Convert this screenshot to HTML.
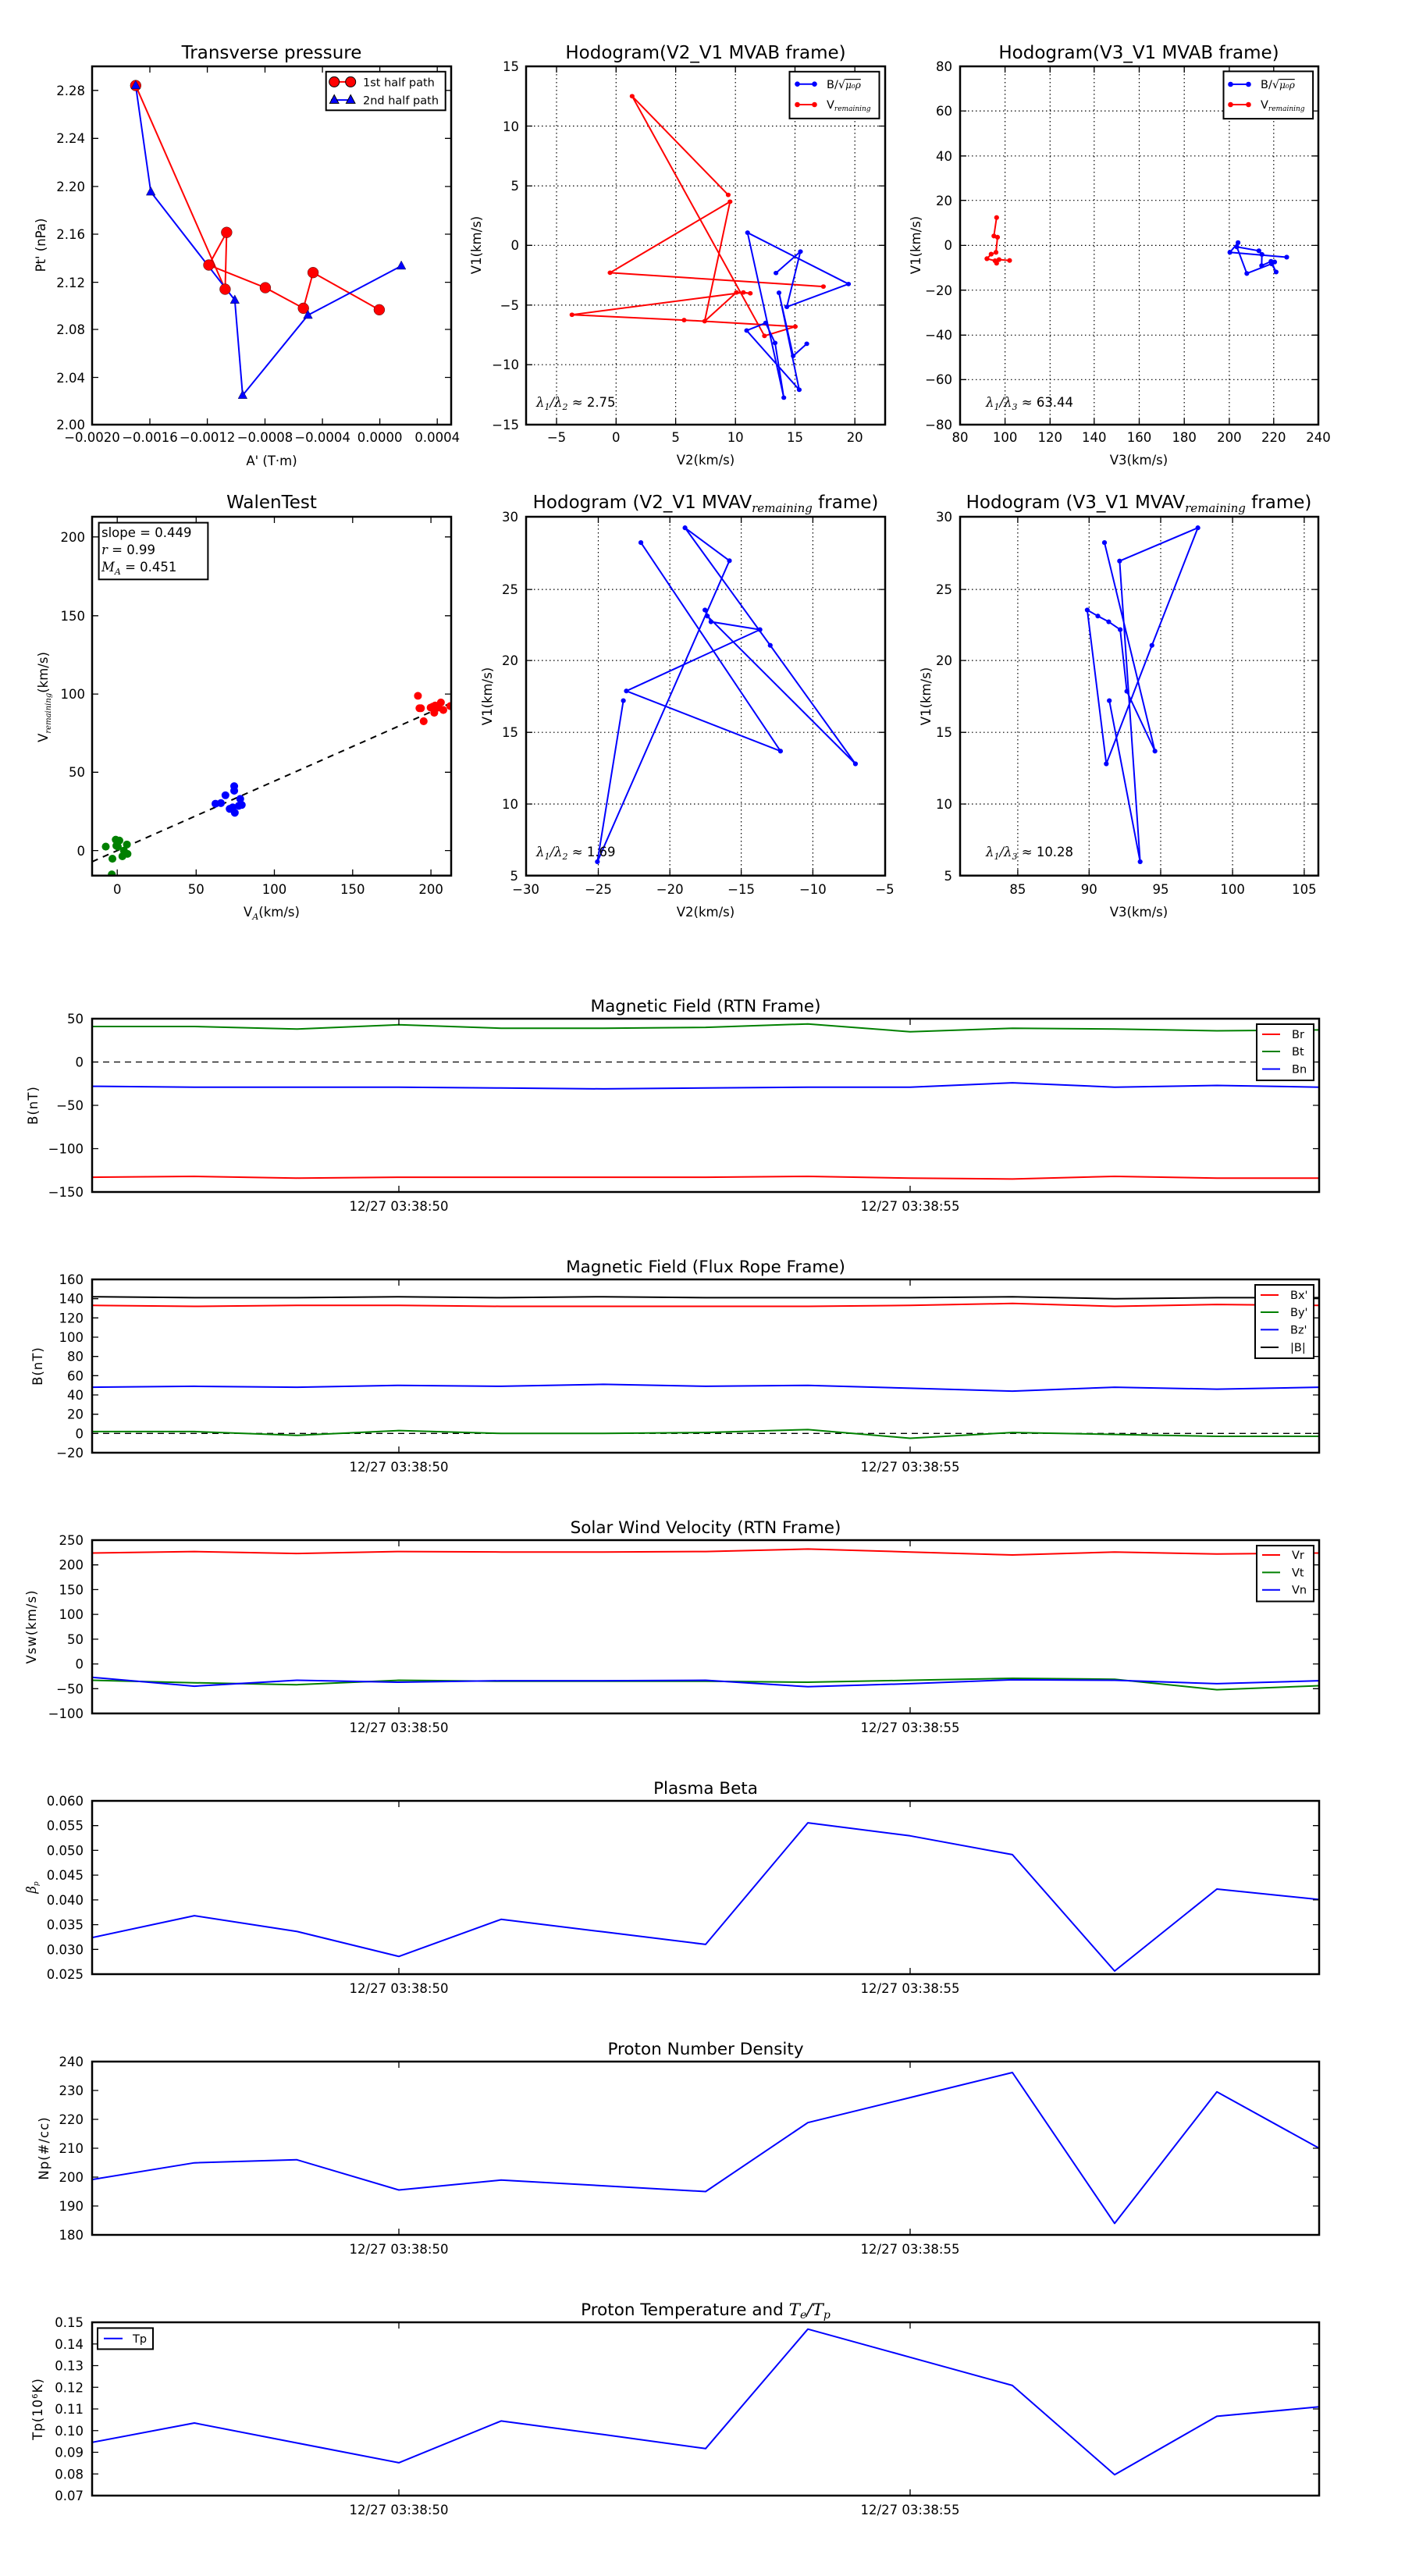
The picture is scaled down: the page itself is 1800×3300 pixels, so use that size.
<!DOCTYPE html>
<html><head><meta charset="utf-8"><style>
html,body{margin:0;padding:0;background:#fff;}
svg{display:block}
text{font-family:"DejaVu Sans","Liberation Sans",sans-serif;font-size:16.5px;fill:#000}
.t{font-size:23px}
.ts{font-size:21.5px}
.lg{font-size:14.5px}
.m{font-family:"DejaVu Serif","Liberation Serif",serif;font-style:italic}
.ax{fill:none;stroke:#000;stroke-width:2.5}
.tk{fill:none;stroke:#000;stroke-width:1.3}
.gr{fill:none;stroke:#000;stroke-width:1.2;stroke-dasharray:1.5,3.5}
.d{fill:none;stroke-width:2;vector-effect:non-scaling-stroke;stroke-linejoin:round}
.R{stroke:#ff0000}.G{stroke:#008000}.B{stroke:#0000ff}.K{stroke:#000}
</style></head><body>
<svg width="1800" height="3300" viewBox="0 0 1800 3300" xmlns="http://www.w3.org/2000/svg">
<rect width="1800" height="3300" fill="#fff"/>

<!-- ============ Panel A: Transverse pressure ============ -->
<text class="t" x="348" y="75" text-anchor="middle">Transverse pressure</text>
<g transform="scale(0.38715)">
<polyline class="d R" points="449,283 745,957 750,769 691,877 878,952 1004,1020 1036,902 1255,1025"/>
<polyline class="d B" points="449,283 499,635 777,993 803,1308 1019,1043 1328,880"/>
<g fill="#ff0000" stroke="#000" stroke-width="1" vector-effect="non-scaling-stroke">
<circle cx="449" cy="283" r="18"/><circle cx="745" cy="957" r="18"/><circle cx="750" cy="769" r="18"/><circle cx="691" cy="877" r="18"/><circle cx="878" cy="952" r="18"/><circle cx="1004" cy="1020" r="18"/><circle cx="1036" cy="902" r="18"/><circle cx="1255" cy="1025" r="18"/>
</g>
<g fill="#0000ff" stroke="#000" stroke-width="1">
<polygon points="449,266 434,294 464,294"/><polygon points="499,618 484,646 514,646"/><polygon points="777,976 762,1004 792,1004"/><polygon points="803,1291 788,1319 818,1319"/><polygon points="1019,1026 1004,1054 1034,1054"/><polygon points="1328,863 1313,891 1343,891"/>
</g>
</g>
<rect class="ax" x="118" y="85" width="460" height="459"/>
<path class="tk" d="M192,544v-8M192,85v8M265.6,544v-8M265.6,85v8M339.5,544v-8M339.5,85v8M413.1,544v-8M413.1,85v8M486.6,544v-8M486.6,85v8M560.2,544v-8M560.2,85v8
M118,115.8h8M578,115.8h-8M118,177.3h8M578,177.3h-8M118,238.9h8M578,238.9h-8M118,300h8M578,300h-8M118,361.6h8M578,361.6h-8M118,422h8M578,422h-8M118,483.5h8M578,483.5h-8"/>
<g text-anchor="end">
<text x="109" y="122">2.28</text><text x="109" y="183">2.24</text><text x="109" y="245">2.20</text><text x="109" y="306">2.16</text><text x="109" y="368">2.12</text><text x="109" y="428">2.08</text><text x="109" y="490">2.04</text><text x="109" y="550">2.00</text>
</g>
<g text-anchor="middle">
<text x="118" y="566">−0.0020</text><text x="192" y="566">−0.0016</text><text x="265.6" y="566">−0.0012</text><text x="339.5" y="566">−0.0008</text><text x="413.1" y="566">−0.0004</text><text x="486.6" y="566">0.0000</text><text x="560.2" y="566">0.0004</text>
<text x="348" y="596">A' (T·m)</text>
</g>
<text transform="translate(58,314) rotate(-90)" text-anchor="middle">Pt' (nPa)</text>
<rect x="417.7" y="91.8" width="153" height="49.5" fill="#fff" stroke="#000" stroke-width="2"/>
<line x1="424" y1="104.9" x2="452" y2="104.9" stroke="#f00" stroke-width="2"/>
<circle cx="428.2" cy="104.9" r="6.5" fill="#f00" stroke="#000"/><circle cx="449.2" cy="104.9" r="6.5" fill="#f00" stroke="#000"/>
<text class="lg" x="465" y="110.5">1st half path</text>
<line x1="424" y1="128.1" x2="452" y2="128.1" stroke="#00f" stroke-width="2"/>
<polygon points="428.2,121.5 422.4,132.4 434,132.4" fill="#00f" stroke="#000"/><polygon points="449.2,121.5 443.4,132.4 455,132.4" fill="#00f" stroke="#000"/>
<text class="lg" x="465" y="133.7">2nd half path</text>

<!-- ============ Panel B: Hodogram V2_V1 MVAB ============ -->
<text class="t" x="904" y="75" text-anchor="middle">Hodogram(V2_V1 MVAB frame)</text>
<path class="gr" d="M713,85V544M789.3,85V544M865.6,85V544M942.2,85V544M1018.5,85V544M1095.2,85V544M674,161.5H1134M674,238.1H1134M674,314.3H1134M674,390.9H1134M674,467.2H1134"/>
<g transform="translate(600,60) scale(0.38715,0.36127)">
<polyline class="d R" points="860,525 542,175 980,1025 1082,992 714,969 343,950 910,871 933,874 887,871 782,973 866,549 469,801 1175,850"/>
<polyline class="d B" points="1018,802 1099,726 1054,922 1258,841 924,659 1044,1244 1015,1050 984,979 921,1006 1095,1216 1028,872 1075,1096 1120,1053"/>
<g fill="#f00"><circle cx="860" cy="525" r="8"/><circle cx="542" cy="175" r="8"/><circle cx="980" cy="1025" r="8"/><circle cx="1082" cy="992" r="8"/><circle cx="714" cy="969" r="8"/><circle cx="343" cy="950" r="8"/><circle cx="910" cy="871" r="8"/><circle cx="933" cy="874" r="8"/><circle cx="887" cy="871" r="8"/><circle cx="782" cy="973" r="8"/><circle cx="866" cy="549" r="8"/><circle cx="469" cy="801" r="8"/><circle cx="1175" cy="850" r="8"/></g>
<g fill="#00f"><circle cx="1018" cy="802" r="8"/><circle cx="1099" cy="726" r="8"/><circle cx="1054" cy="922" r="8"/><circle cx="1258" cy="841" r="8"/><circle cx="924" cy="659" r="8"/><circle cx="1044" cy="1244" r="8"/><circle cx="1015" cy="1050" r="8"/><circle cx="984" cy="979" r="8"/><circle cx="921" cy="1006" r="8"/><circle cx="1095" cy="1216" r="8"/><circle cx="1028" cy="872" r="8"/><circle cx="1075" cy="1096" r="8"/><circle cx="1120" cy="1053" r="8"/></g>
</g>
<rect class="ax" x="674" y="85" width="460" height="459"/>
<path class="tk" d="M713,544v-8M713,85v8M789.3,544v-8M789.3,85v8M865.6,544v-8M865.6,85v8M942.2,544v-8M942.2,85v8M1018.5,544v-8M1018.5,85v8M1095.2,544v-8M1095.2,85v8
M674,161.5h8M1134,161.5h-8M674,238.1h8M1134,238.1h-8M674,314.3h8M1134,314.3h-8M674,390.9h8M1134,390.9h-8M674,467.2h8M1134,467.2h-8"/>
<g text-anchor="end">
<text x="665" y="91">15</text><text x="665" y="168">10</text><text x="665" y="244">5</text><text x="665" y="320">0</text><text x="665" y="397">−5</text><text x="665" y="473">−10</text><text x="665" y="550">−15</text>
</g>
<g text-anchor="middle">
<text x="713" y="566">−5</text><text x="789.3" y="566">0</text><text x="865.6" y="566">5</text><text x="942.2" y="566">10</text><text x="1018.5" y="566">15</text><text x="1095.2" y="566">20</text>
<text x="904" y="595">V2(km/s)</text>
</g>
<text transform="translate(616,314) rotate(-90)" text-anchor="middle">V1(km/s)</text>
<text x="687" y="521" font-size="17"><tspan class="m">λ</tspan><tspan class="m" font-size="11" dy="4">1</tspan><tspan class="m" dy="-4">/λ</tspan><tspan class="m" font-size="11" dy="4">2</tspan><tspan dy="-4"> ≈ 2.75</tspan></text>
<rect x="1011.5" y="91.8" width="115" height="60" fill="#fff" stroke="#000" stroke-width="2"/>
<line x1="1020" y1="107.7" x2="1045" y2="107.7" stroke="#00f" stroke-width="2"/><circle cx="1021.5" cy="107.7" r="3.3" fill="#00f"/><circle cx="1043.5" cy="107.7" r="3.3" fill="#00f"/>
<text class="lg" x="1059" y="113">B/√<tspan class="m" font-size="12" text-decoration="overline">μ₀ρ</tspan></text>
<line x1="1020" y1="134" x2="1045" y2="134" stroke="#f00" stroke-width="2"/><circle cx="1021.5" cy="134" r="3.3" fill="#f00"/><circle cx="1043.5" cy="134" r="3.3" fill="#f00"/>
<text class="lg" x="1059" y="139">V<tspan class="m" font-size="9" dy="3">remaining</tspan></text>

<!-- ============ Panel C: Hodogram V3_V1 MVAB ============ -->
<text class="t" x="1459" y="75" text-anchor="middle">Hodogram(V3_V1 MVAB frame)</text>
<path class="gr" d="M1287.6,85V544M1345.3,85V544M1401.8,85V544M1459.5,85V544M1517.2,85V544M1574.9,85V544M1631.8,85V544M1230,142.1H1689M1230,199.8H1689M1230,256.7H1689M1230,314.4H1689M1230,371.7H1689M1230,429.3H1689M1230,486.3H1689"/>
<g transform="translate(1180,60) scale(0.38715)">
<polyline class="d R" points="250,565 241,626 253,630 248,680 232,686 218,701 245,708 250,716 258,704 293,707"/>
<polyline class="d B" points="1210,696 1022,680 1049,648 1045,662 1118,675 1128,687 1127,724 1158,710 1175,745 1160,718 1078,750 1045,662"/>
<g fill="#f00"><circle cx="250" cy="565" r="8"/><circle cx="241" cy="626" r="8"/><circle cx="253" cy="630" r="8"/><circle cx="248" cy="680" r="8"/><circle cx="232" cy="686" r="8"/><circle cx="218" cy="701" r="8"/><circle cx="245" cy="708" r="8"/><circle cx="250" cy="716" r="8"/><circle cx="258" cy="704" r="8"/><circle cx="293" cy="707" r="8"/></g>
<g fill="#00f"><circle cx="1210" cy="696" r="8"/><circle cx="1022" cy="680" r="8"/><circle cx="1049" cy="648" r="8"/><circle cx="1045" cy="662" r="8"/><circle cx="1118" cy="675" r="8"/><circle cx="1128" cy="687" r="8"/><circle cx="1127" cy="724" r="8"/><circle cx="1158" cy="710" r="8"/><circle cx="1175" cy="745" r="8"/><circle cx="1160" cy="718" r="8"/><circle cx="1078" cy="750" r="8"/><circle cx="1170" cy="712" r="8"/></g>
</g>
<rect class="ax" x="1230" y="85" width="459" height="459"/>
<path class="tk" d="M1287.6,544v-8M1287.6,85v8M1345.3,544v-8M1345.3,85v8M1401.8,544v-8M1401.8,85v8M1459.5,544v-8M1459.5,85v8M1517.2,544v-8M1517.2,85v8M1574.9,544v-8M1574.9,85v8M1631.8,544v-8M1631.8,85v8
M1230,142.1h8M1689,142.1h-8M1230,199.8h8M1689,199.8h-8M1230,256.7h8M1689,256.7h-8M1230,314.4h8M1689,314.4h-8M1230,371.7h8M1689,371.7h-8M1230,429.3h8M1689,429.3h-8M1230,486.3h8M1689,486.3h-8"/>
<g text-anchor="end">
<text x="1220" y="91">80</text><text x="1220" y="148">60</text><text x="1220" y="206">40</text><text x="1220" y="263">20</text><text x="1220" y="320">0</text><text x="1220" y="378">−20</text><text x="1220" y="435">−40</text><text x="1220" y="492">−60</text><text x="1220" y="550">−80</text>
</g>
<g text-anchor="middle">
<text x="1230" y="566">80</text><text x="1287.6" y="566">100</text><text x="1345.3" y="566">120</text><text x="1401.8" y="566">140</text><text x="1459.5" y="566">160</text><text x="1517.2" y="566">180</text><text x="1574.9" y="566">200</text><text x="1631.8" y="566">220</text><text x="1689" y="566">240</text>
<text x="1459" y="595">V3(km/s)</text>
</g>
<text transform="translate(1179,314) rotate(-90)" text-anchor="middle">V1(km/s)</text>
<text x="1263" y="521" font-size="17"><tspan class="m">λ</tspan><tspan class="m" font-size="11" dy="4">1</tspan><tspan class="m" dy="-4">/λ</tspan><tspan class="m" font-size="11" dy="4">3</tspan><tspan dy="-4"> ≈ 63.44</tspan></text>
<rect x="1567.5" y="91.4" width="114.6" height="60.7" fill="#fff" stroke="#000" stroke-width="2"/>
<line x1="1575" y1="108" x2="1601" y2="108" stroke="#00f" stroke-width="2"/><circle cx="1576.5" cy="108" r="3.3" fill="#00f"/><circle cx="1599.5" cy="108" r="3.3" fill="#00f"/>
<text class="lg" x="1615" y="113">B/√<tspan class="m" font-size="12" text-decoration="overline">μ₀ρ</tspan></text>
<line x1="1575" y1="134" x2="1601" y2="134" stroke="#f00" stroke-width="2"/><circle cx="1576.5" cy="134" r="3.3" fill="#f00"/><circle cx="1599.5" cy="134" r="3.3" fill="#f00"/>
<text class="lg" x="1615" y="139">V<tspan class="m" font-size="9" dy="3">remaining</tspan></text>

<!-- ============ Panel D: WalenTest ============ -->
<text class="t" x="348" y="651" text-anchor="middle">WalenTest</text>
<line x1="118" y1="1103.9" x2="577.6" y2="900.7" stroke="#000" stroke-width="2" stroke-dasharray="8,7"/>
<g transform="translate(0,620) scale(0.38715)">
<g fill="#f00"><circle cx="1383" cy="701" r="13"/><circle cx="1388" cy="742" r="13"/><circle cx="1393" cy="742" r="13"/><circle cx="1402" cy="785" r="13"/><circle cx="1432" cy="737" r="13"/><circle cx="1440" cy="733" r="13"/><circle cx="1437" cy="757" r="13"/><circle cx="1459" cy="723" r="13"/><circle cx="1467" cy="748" r="13"/><circle cx="1490" cy="735" r="13"/><circle cx="1450" cy="740" r="13"/><circle cx="1425" cy="740" r="13"/></g>
<g fill="#00f"><circle cx="713" cy="1058" r="13"/><circle cx="731" cy="1056" r="13"/><circle cx="746" cy="1030" r="13"/><circle cx="775" cy="1000" r="13"/><circle cx="775" cy="1015" r="13"/><circle cx="795" cy="1042" r="13"/><circle cx="760" cy="1075" r="13"/><circle cx="777" cy="1088" r="13"/><circle cx="770" cy="1070" r="13"/><circle cx="800" cy="1062" r="13"/><circle cx="790" cy="1065" r="13"/></g>
<g fill="#008000"><circle cx="350" cy="1200" r="13"/><circle cx="383" cy="1177" r="13"/><circle cx="395" cy="1180" r="13"/><circle cx="420" cy="1193" r="13"/><circle cx="385" cy="1197" r="13"/><circle cx="372" cy="1240" r="13"/><circle cx="405" cy="1232" r="13"/><circle cx="422" cy="1224" r="13"/><circle cx="410" cy="1213" r="13"/><circle cx="370" cy="1292" r="13"/><circle cx="390" cy="1200" r="13"/></g>
</g>
<rect x="0" y="1123" width="600" height="20" fill="#fff"/>
<rect x="579" y="890" width="20" height="240" fill="#fff"/>
<rect class="ax" x="118" y="662" width="460" height="459.7"/>
<path class="tk" d="M150.2,1121.7v-8M150.2,662v8M251.3,1121.7v-8M251.3,662v8M351.5,1121.7v-8M351.5,662v8M451.8,1121.7v-8M451.8,662v8M552.1,1121.7v-8M552.1,662v8
M118,687.8h8M578,687.8h-8M118,788.8h8M578,788.8h-8M118,889.1h8M578,889.1h-8M118,989.3h8M578,989.3h-8M118,1089.6h8M578,1089.6h-8"/>
<g text-anchor="end">
<text x="109" y="694">200</text><text x="109" y="795">150</text><text x="109" y="895">100</text><text x="109" y="995">50</text><text x="109" y="1096">0</text>
</g>
<g text-anchor="middle">
<text x="150.2" y="1145">0</text><text x="251.3" y="1145">50</text><text x="351.5" y="1145">100</text><text x="451.8" y="1145">150</text><text x="552.1" y="1145">200</text>
<text x="348" y="1174">V<tspan class="m" font-size="11" dy="4">A</tspan><tspan dy="-4">(km/s)</tspan></text>
</g>
<text transform="translate(61,893) rotate(-90)" text-anchor="middle">V<tspan class="m" font-size="10" dy="4">remaining</tspan><tspan dy="-4">(km/s)</tspan></text>
<rect x="126.6" y="669.6" width="139.8" height="72.7" fill="#fff" stroke="#000" stroke-width="2"/>
<text x="130" y="688" font-size="17">slope = 0.449</text>
<text x="130" y="710" font-size="17"><tspan class="m">r</tspan> = 0.99</text>
<text x="130" y="732" font-size="17"><tspan class="m">M</tspan><tspan class="m" font-size="11" dy="4">A</tspan><tspan dy="-4"> = 0.451</tspan></text>

<!-- ============ Panel E ============ -->
<text class="t" x="904" y="651" text-anchor="middle">Hodogram (V2_V1 MVAV<tspan class="m" font-size="15" dy="5">remaining</tspan><tspan dy="-5"> frame)</tspan></text>
<path class="gr" d="M766.5,662V1122M858.2,662V1122M949.6,662V1122M1041.4,662V1122M674,755.1H1134M674,846.1H1134M674,938.2H1134M674,1030H1134"/>
<g transform="translate(600,620) scale(0.38715)">
<polyline class="d B" points="571,194 1033,884 523,685 965,482 803,456 783,417 791,437 1281,926 999,534 717,145 864,254 427,1250 513,717"/>
<g fill="#00f"><circle cx="571" cy="194" r="8"/><circle cx="1033" cy="884" r="8"/><circle cx="523" cy="685" r="8"/><circle cx="965" cy="482" r="8"/><circle cx="803" cy="456" r="8"/><circle cx="783" cy="417" r="8"/><circle cx="791" cy="437" r="8"/><circle cx="1281" cy="926" r="8"/><circle cx="999" cy="534" r="8"/><circle cx="717" cy="145" r="8"/><circle cx="864" cy="254" r="8"/><circle cx="427" cy="1250" r="8"/><circle cx="513" cy="717" r="8"/></g>
</g>
<rect class="ax" x="674" y="662" width="460" height="459.7"/>
<path class="tk" d="M766.5,1121.7v-8M766.5,662v8M858.2,1121.7v-8M858.2,662v8M949.6,1121.7v-8M949.6,662v8M1041.4,1121.7v-8M1041.4,662v8
M674,755.1h8M1134,755.1h-8M674,846.1h8M1134,846.1h-8M674,938.2h8M1134,938.2h-8M674,1030h8M1134,1030h-8"/>
<g text-anchor="end">
<text x="664" y="668">30</text><text x="664" y="761">25</text><text x="664" y="852">20</text><text x="664" y="944">15</text><text x="664" y="1036">10</text><text x="664" y="1128">5</text>
</g>
<g text-anchor="middle">
<text x="673.6" y="1145">−30</text><text x="766.5" y="1145">−25</text><text x="858.2" y="1145">−20</text><text x="949.6" y="1145">−15</text><text x="1041.4" y="1145">−10</text><text x="1133.5" y="1145">−5</text>
<text x="904" y="1174">V2(km/s)</text>
</g>
<text transform="translate(630,892) rotate(-90)" text-anchor="middle">V1(km/s)</text>
<text x="687" y="1097" font-size="17"><tspan class="m">λ</tspan><tspan class="m" font-size="11" dy="4">1</tspan><tspan class="m" dy="-4">/λ</tspan><tspan class="m" font-size="11" dy="4">2</tspan><tspan dy="-4"> ≈ 1.69</tspan></text>

<!-- ============ Panel F ============ -->
<text class="t" x="1459" y="651" text-anchor="middle">Hodogram (V3_V1 MVAV<tspan class="m" font-size="15" dy="5">remaining</tspan><tspan dy="-5"> frame)</tspan></text>
<path class="gr" d="M1303.9,662V1122M1395.3,662V1122M1487,662V1122M1579.1,662V1122M1670.9,662V1122M1230,755.1H1689M1230,846.1H1689M1230,938.2H1689M1230,1030H1689"/>
<g transform="translate(1180,620) scale(0.38715)">
<polyline class="d B" points="607,194 774,884 681,686 659,482 621,456 585,437 550,417 613,926 764,534 916,145 657,255 725,1250 623,717"/>
<g fill="#00f"><circle cx="607" cy="194" r="8"/><circle cx="774" cy="884" r="8"/><circle cx="681" cy="686" r="8"/><circle cx="659" cy="482" r="8"/><circle cx="621" cy="456" r="8"/><circle cx="585" cy="437" r="8"/><circle cx="550" cy="417" r="8"/><circle cx="613" cy="926" r="8"/><circle cx="764" cy="534" r="8"/><circle cx="916" cy="145" r="8"/><circle cx="657" cy="255" r="8"/><circle cx="725" cy="1250" r="8"/><circle cx="623" cy="717" r="8"/></g>
</g>
<rect class="ax" x="1230" y="662" width="459" height="459.7"/>
<path class="tk" d="M1303.9,1121.7v-8M1303.9,662v8M1395.3,1121.7v-8M1395.3,662v8M1487,1121.7v-8M1487,662v8M1579.1,1121.7v-8M1579.1,662v8M1670.9,1121.7v-8M1670.9,662v8
M1230,755.1h8M1689,755.1h-8M1230,846.1h8M1689,846.1h-8M1230,938.2h8M1689,938.2h-8M1230,1030h8M1689,1030h-8"/>
<g text-anchor="end">
<text x="1220" y="668">30</text><text x="1220" y="761">25</text><text x="1220" y="852">20</text><text x="1220" y="944">15</text><text x="1220" y="1036">10</text><text x="1220" y="1128">5</text>
</g>
<g text-anchor="middle">
<text x="1303.9" y="1145">85</text><text x="1395.3" y="1145">90</text><text x="1487" y="1145">95</text><text x="1579.1" y="1145">100</text><text x="1670.9" y="1145">105</text>
<text x="1459" y="1174">V3(km/s)</text>
</g>
<text transform="translate(1192,892) rotate(-90)" text-anchor="middle">V1(km/s)</text>
<text x="1263" y="1097" font-size="17"><tspan class="m">λ</tspan><tspan class="m" font-size="11" dy="4">1</tspan><tspan class="m" dy="-4">/λ</tspan><tspan class="m" font-size="11" dy="4">3</tspan><tspan dy="-4"> ≈ 10.28</tspan></text>

<!-- ============ TS1: Magnetic Field RTN ============ -->
<text class="ts" x="904" y="1296" text-anchor="middle">Magnetic Field (RTN Frame)</text>
<line x1="118" y1="1360.5" x2="1690" y2="1360.5" stroke="#000" stroke-width="1.3" stroke-dasharray="8,6"/>
<polyline class="d G" points="118,1315 249,1315 380,1318.3 511,1312.8 642,1317.2 773,1317.2 904,1316.1 1035,1311.7 1166,1321.7 1297,1317.2 1428,1318.3 1559,1320.5 1690,1319.4"/>
<polyline class="d B" points="118,1391.6 249,1392.7 380,1392.7 511,1392.7 642,1393.8 773,1394.9 904,1393.8 1035,1392.7 1166,1392.7 1297,1387.1 1428,1392.7 1559,1390.5 1690,1392.7"/>
<polyline class="d R" points="118,1508.1 249,1507 380,1509.2 511,1508.1 642,1508.1 773,1508.1 904,1508.1 1035,1507 1166,1509.2 1297,1510.4 1428,1507 1559,1509.2 1690,1509.2"/>
<rect class="ax" x="118" y="1305" width="1572" height="222"/>
<path class="tk" d="M511,1527v-8M511,1305v8M1166,1527v-8M1166,1305v8M118,1360.5h8M1690,1360.5h-8M118,1416h8M1690,1416h-8M118,1471.5h8M1690,1471.5h-8"/>
<g text-anchor="end"><text x="107" y="1311">50</text><text x="107" y="1366.5">0</text><text x="107" y="1422">−50</text><text x="107" y="1477.5">−100</text><text x="107" y="1533">−150</text></g>
<g text-anchor="middle"><text x="511" y="1551">12/27 03:38:50</text><text x="1166" y="1551">12/27 03:38:55</text></g>
<text transform="translate(48,1416) rotate(-90)" text-anchor="middle" letter-spacing="1">B(nT)</text>
<rect x="1610" y="1312" width="73" height="72" fill="#fff" stroke="#000" stroke-width="2"/>
<line x1="1617" y1="1325" x2="1640" y2="1325" stroke="#f00" stroke-width="2"/><text class="lg" x="1655" y="1330">Br</text>
<line x1="1617" y1="1347" x2="1640" y2="1347" stroke="#008000" stroke-width="2"/><text class="lg" x="1655" y="1352">Bt</text>
<line x1="1617" y1="1369.5" x2="1640" y2="1369.5" stroke="#00f" stroke-width="2"/><text class="lg" x="1655" y="1374.5">Bn</text>

<!-- ============ TS2: Magnetic Field Flux Rope ============ -->
<text class="ts" x="904" y="1630" text-anchor="middle">Magnetic Field (Flux Rope Frame)</text>
<line x1="118" y1="1836.3" x2="1690" y2="1836.3" stroke="#000" stroke-width="1.3" stroke-dasharray="8,6"/>
<polyline class="d K" points="118,1661.2 249,1662.4 380,1662.4 511,1661.2 642,1662.4 773,1661.2 904,1662.4 1035,1662.4 1166,1662.4 1297,1661.2 1428,1663.7 1559,1662.4 1690,1662.4"/>
<polyline class="d R" points="118,1672.3 249,1673.5 380,1672.3 511,1672.3 642,1673.5 773,1673.5 904,1673.5 1035,1673.5 1166,1672.3 1297,1669.8 1428,1673.5 1559,1671.1 1690,1672.3"/>
<polyline class="d B" points="118,1777.1 249,1775.9 380,1777.1 511,1774.7 642,1775.9 773,1773.4 904,1775.9 1035,1774.7 1166,1778.4 1297,1782.1 1428,1777.1 1559,1779.6 1690,1777.1"/>
<polyline class="d G" points="118,1833.9 249,1833.9 380,1838.8 511,1832.6 642,1836.3 773,1836.3 904,1835.1 1035,1831.4 1166,1842.5 1297,1835.1 1428,1837.6 1559,1840 1690,1840"/>
<rect class="ax" x="118" y="1639" width="1572" height="222"/>
<path class="tk" d="M511,1861v-8M511,1639v8M1166,1861v-8M1166,1639v8M118,1663.7h8M1690,1663.7h-8M118,1688.3h8M1690,1688.3h-8M118,1713h8M1690,1713h-8M118,1737.7h8M1690,1737.7h-8M118,1762.3h8M1690,1762.3h-8M118,1787h8M1690,1787h-8M118,1811.7h8M1690,1811.7h-8M118,1836.3h8M1690,1836.3h-8"/>
<g text-anchor="end"><text x="107" y="1645">160</text><text x="107" y="1669.7">140</text><text x="107" y="1694.3">120</text><text x="107" y="1719">100</text><text x="107" y="1743.7">80</text><text x="107" y="1768.3">60</text><text x="107" y="1793">40</text><text x="107" y="1817.7">20</text><text x="107" y="1842.3">0</text><text x="107" y="1867">−20</text></g>
<g text-anchor="middle"><text x="511" y="1885">12/27 03:38:50</text><text x="1166" y="1885">12/27 03:38:55</text></g>
<text transform="translate(54,1750) rotate(-90)" text-anchor="middle" letter-spacing="1">B(nT)</text>
<rect x="1608" y="1646" width="75" height="94" fill="#fff" stroke="#000" stroke-width="2"/>
<line x1="1615" y1="1659" x2="1638" y2="1659" stroke="#f00" stroke-width="2"/><text class="lg" x="1653" y="1664">Bx'</text>
<line x1="1615" y1="1681" x2="1638" y2="1681" stroke="#008000" stroke-width="2"/><text class="lg" x="1653" y="1686">By'</text>
<line x1="1615" y1="1703.4" x2="1638" y2="1703.4" stroke="#00f" stroke-width="2"/><text class="lg" x="1653" y="1708.4">Bz'</text>
<line x1="1615" y1="1726" x2="1638" y2="1726" stroke="#000" stroke-width="2"/><text class="lg" x="1653" y="1731">|B|</text>

<!-- ============ TS3: Solar Wind Velocity ============ -->
<text class="ts" x="904" y="1964" text-anchor="middle">Solar Wind Velocity (RTN Frame)</text>
<polyline class="d R" points="118,1989.5 249,1987.6 380,1990.1 511,1987.6 642,1988.2 773,1988.2 904,1987.6 1035,1984.4 1166,1988.2 1297,1992 1428,1988.2 1559,1990.8 1690,1989.5"/>
<polyline class="d G" points="118,2152.5 249,2155.7 380,2158.2 511,2152.5 642,2153.8 773,2153.8 904,2153.8 1035,2155 1166,2152.5 1297,2150 1428,2151.2 1559,2164.6 1690,2159.5"/>
<polyline class="d B" points="118,2148.7 249,2160.1 380,2152.5 511,2155 642,2153.1 773,2153.1 904,2152.5 1035,2160.8 1166,2156.9 1297,2151.9 1428,2152.5 1559,2156.9 1690,2153.1"/>
<rect class="ax" x="118" y="1973" width="1572" height="222"/>
<path class="tk" d="M511,2195v-8M511,1973v8M1166,2195v-8M1166,1973v8M118,2004.7h8M1690,2004.7h-8M118,2036.4h8M1690,2036.4h-8M118,2068.1h8M1690,2068.1h-8M118,2099.9h8M1690,2099.9h-8M118,2131.6h8M1690,2131.6h-8M118,2163.3h8M1690,2163.3h-8"/>
<g text-anchor="end"><text x="107" y="1979">250</text><text x="107" y="2010.7">200</text><text x="107" y="2042.4">150</text><text x="107" y="2074.1">100</text><text x="107" y="2105.9">50</text><text x="107" y="2137.6">0</text><text x="107" y="2169.3">−50</text><text x="107" y="2201">−100</text></g>
<g text-anchor="middle"><text x="511" y="2219">12/27 03:38:50</text><text x="1166" y="2219">12/27 03:38:55</text></g>
<text transform="translate(46,2084) rotate(-90)" text-anchor="middle" letter-spacing="1">Vsw(km/s)</text>
<rect x="1610" y="1980" width="73" height="71.5" fill="#fff" stroke="#000" stroke-width="2"/>
<line x1="1617" y1="1992" x2="1640" y2="1992" stroke="#f00" stroke-width="2"/><text class="lg" x="1655" y="1997">Vr</text>
<line x1="1617" y1="2014.4" x2="1640" y2="2014.4" stroke="#008000" stroke-width="2"/><text class="lg" x="1655" y="2019.4">Vt</text>
<line x1="1617" y1="2036.7" x2="1640" y2="2036.7" stroke="#00f" stroke-width="2"/><text class="lg" x="1655" y="2041.7">Vn</text>

<!-- ============ TS4: Plasma Beta ============ -->
<text class="ts" x="904" y="2298" text-anchor="middle">Plasma Beta</text>
<polyline class="d B" points="118,2482.2 249,2454.1 380,2474.2 511,2506.3 642,2458.8 773,2474.8 904,2490.9 1035,2335.1 1166,2351.8 1297,2375.9 1428,2525 1559,2420 1690,2433.4"/>
<rect class="ax" x="118" y="2307" width="1572" height="222"/>
<path class="tk" d="M511,2529v-8M511,2307v8M1166,2529v-8M1166,2307v8M118,2338.7h8M1690,2338.7h-8M118,2370.4h8M1690,2370.4h-8M118,2402.1h8M1690,2402.1h-8M118,2433.9h8M1690,2433.9h-8M118,2465.6h8M1690,2465.6h-8M118,2497.3h8M1690,2497.3h-8"/>
<g text-anchor="end"><text x="107" y="2313">0.060</text><text x="107" y="2344.7">0.055</text><text x="107" y="2376.4">0.050</text><text x="107" y="2408.1">0.045</text><text x="107" y="2439.9">0.040</text><text x="107" y="2471.6">0.035</text><text x="107" y="2503.3">0.030</text><text x="107" y="2535">0.025</text></g>
<g text-anchor="middle"><text x="511" y="2553">12/27 03:38:50</text><text x="1166" y="2553">12/27 03:38:55</text></g>
<text transform="translate(46,2418) rotate(-90)" text-anchor="middle" class="m" font-size="14">β<tspan font-size="9" dy="3">p</tspan></text>

<!-- ============ TS5: Proton Number Density ============ -->
<text class="ts" x="904" y="2632" text-anchor="middle">Proton Number Density</text>
<polyline class="d B" points="118,2792.1 249,2770.7 380,2766.7 511,2805.5 642,2792.8 773,2800.1 904,2807.5 1035,2719.2 1166,2687.1 1297,2655 1428,2848.3 1559,2679.8 1690,2752"/>
<rect class="ax" x="118" y="2641" width="1572" height="222"/>
<path class="tk" d="M511,2863v-8M511,2641v8M1166,2863v-8M1166,2641v8M118,2678h8M1690,2678h-8M118,2715h8M1690,2715h-8M118,2752h8M1690,2752h-8M118,2789h8M1690,2789h-8M118,2826h8M1690,2826h-8"/>
<g text-anchor="end"><text x="107" y="2647">240</text><text x="107" y="2684">230</text><text x="107" y="2721">220</text><text x="107" y="2758">210</text><text x="107" y="2795">200</text><text x="107" y="2832">190</text><text x="107" y="2869">180</text></g>
<g text-anchor="middle"><text x="511" y="2887">12/27 03:38:50</text><text x="1166" y="2887">12/27 03:38:55</text></g>
<text transform="translate(62,2752) rotate(-90)" text-anchor="middle" letter-spacing="1">Np(#/cc)</text>

<!-- ============ TS6: Proton Temperature ============ -->
<text class="ts" x="904" y="2966" text-anchor="middle">Proton Temperature and <tspan class="m">T</tspan><tspan class="m" font-size="14" dy="4">e</tspan><tspan class="m" dy="-4">/T</tspan><tspan class="m" font-size="14" dy="4">p</tspan></text>
<polyline class="d B" points="118,3128.8 249,3104 380,3129.5 511,3154.9 642,3101.4 773,3118.8 904,3136.8 1035,2983.7 1166,3019.8 1297,3055.9 1428,3170.2 1559,3095.4 1690,3083.3"/>
<rect class="ax" x="118" y="2975" width="1572" height="222"/>
<path class="tk" d="M511,3197v-8M511,2975v8M1166,3197v-8M1166,2975v8M118,3002.75h8M1690,3002.75h-8M118,3030.5h8M1690,3030.5h-8M118,3058.25h8M1690,3058.25h-8M118,3086h8M1690,3086h-8M118,3113.75h8M1690,3113.75h-8M118,3141.5h8M1690,3141.5h-8M118,3169.25h8M1690,3169.25h-8"/>
<g text-anchor="end"><text x="107" y="2981">0.15</text><text x="107" y="3008.75">0.14</text><text x="107" y="3036.5">0.13</text><text x="107" y="3064.25">0.12</text><text x="107" y="3092">0.11</text><text x="107" y="3119.75">0.10</text><text x="107" y="3147.5">0.09</text><text x="107" y="3175.25">0.08</text><text x="107" y="3203">0.07</text></g>
<g text-anchor="middle"><text x="511" y="3221">12/27 03:38:50</text><text x="1166" y="3221">12/27 03:38:55</text></g>
<text transform="translate(54,3086) rotate(-90)" text-anchor="middle" letter-spacing="1">Tp(10<tspan font-size="10" dy="-6">6</tspan><tspan dy="6">K)</tspan></text>
<rect x="125" y="2982.4" width="71" height="27" fill="#fff" stroke="#000" stroke-width="2"/>
<line x1="133" y1="2995.8" x2="157" y2="2995.8" stroke="#00f" stroke-width="2"/><text class="lg" x="170" y="3001">Tp</text>
</svg>
</body></html>
